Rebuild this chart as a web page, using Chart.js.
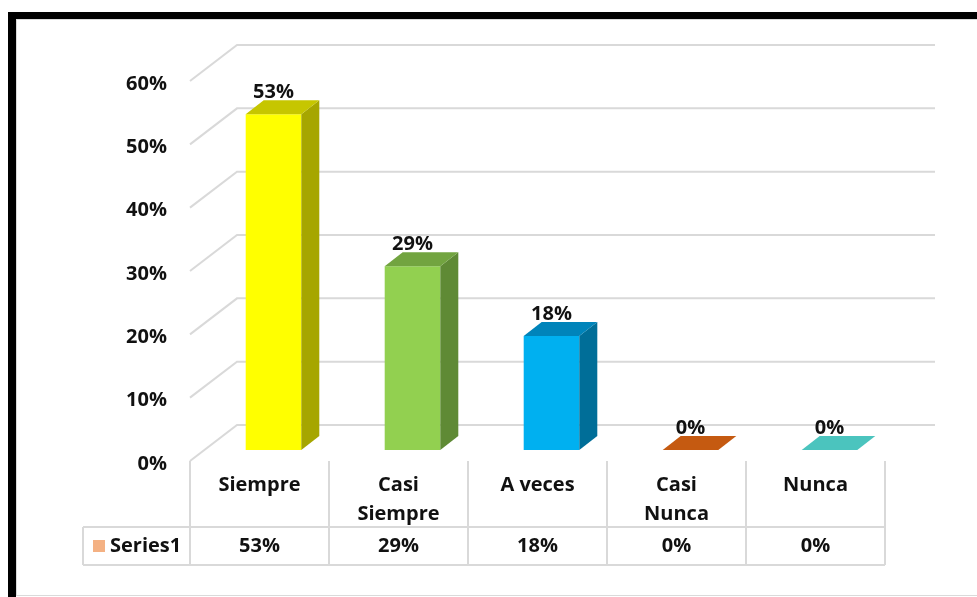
<!DOCTYPE html>
<html>
<head>
<meta charset="utf-8">
<script src="https://cdn.jsdelivr.net/npm/chart.js@4"></script>
<style>
html,body{margin:0;padding:0;background:#fff;}
#wrap{position:absolute;left:0;top:0;width:977px;height:597px;}
</style>
</head>
<body>
<div id="wrap"><canvas id="chart"></canvas></div>
<script>
// data
const categories = [["Siempre"], ["Casi", "Siempre"], ["A veces"], ["Casi", "Nunca"], ["Nunca"]];
const values = [0.53, 0.29, 0.18, 0, 0];
const seriesName = "Series1";
const yMax = 0.6;
const yStep = 0.1;

// colours: front, side, top of each column
const frontColors = ["#FFFF00", "#92D050", "#00B0F0", "#C55A11", "#4BC4BE"];
const sideColors = ["#A6A600", "#5F8A35", "#006E98", "#8E3F0B", "#338F8C"];
const topColors = ["#C6C600", "#72A440", "#0084BA", "#C55A11", "#4BC4BE"];
const keyColor = "#F4B183";

const FONT = "'Open Sans', sans-serif";
const FSIZE = 20;
const pct = v => Math.round(v * 100) + "%";

// 3d offsets (pixels)
const DEPTH = {dx: 18, dy: -14};   // column depth
const FRONT = {dx: -14, dy: 11};   // front edge of floor vs column plane
const BACK = {dx: 33, dy: -25};    // back wall vs column plane
const GRID = "#D9D9D9";

function poly(ctx, pts, color){
  ctx.beginPath();
  ctx.moveTo(pts[0][0], pts[0][1]);
  for(let i=1;i<pts.length;i++) ctx.lineTo(pts[i][0], pts[i][1]);
  ctx.closePath();
  ctx.fillStyle = color;
  ctx.fill();
}

const frame = {
  id: "frame",
  beforeDraw(chart){
    let ctx = chart.ctx;
    ctx.save();
    ctx.fillStyle = "#fff";
    ctx.fillRect(0, 0, chart.width, chart.height);
    ctx.fillStyle = "#000";
    ctx.fillRect(8, 12, chart.width, 7);
    ctx.fillRect(8, 12, 8, chart.height);
    ctx.strokeStyle = "#DADADA";
    ctx.lineWidth = 1;
    ctx.strokeRect(16.5, 19.5, chart.width, 576);
    ctx.restore();
  }
};

/* back wall grid + side wall lines */
const walls = {
  id: "walls",
  beforeDatasetsDraw(chart){
    let ctx = chart.ctx, y = chart.scales.y, a = chart.chartArea;
    let fx = a.left + FRONT.dx, bx = a.left + BACK.dx;
    let bRight = a.right + FRONT.dx + 50;
    ctx.save();
    ctx.strokeStyle = GRID;
    ctx.lineWidth = 2;
    y.ticks.forEach(t => {
      let py = y.getPixelForValue(t.value);
      ctx.beginPath();
      ctx.moveTo(fx, py + FRONT.dy);
      ctx.lineTo(bx, py + BACK.dy);
      ctx.lineTo(bRight, py + BACK.dy);
      ctx.stroke();
    });
    ctx.restore();
  }
};

/* column sides/tops, value labels and the data table */
const bars3d = {
  id: "bars3d",
  afterDatasetsDraw(chart){
    let ctx = chart.ctx, meta = chart.getDatasetMeta(0), a = chart.chartArea;
    let xs = chart.scales.x;
    ctx.save();
    meta.data.forEach((bar, i) => {
      let l = bar.x - bar.width / 2, r = bar.x + bar.width / 2;
      let t = bar.y, b = bar.base;
      if(values[i] > 0){
        poly(ctx, [[r, t], [r + DEPTH.dx, t + DEPTH.dy], [r + DEPTH.dx, b + DEPTH.dy], [r, b]], sideColors[i]);
      }
      poly(ctx, [[l, t], [l + DEPTH.dx, t + DEPTH.dy], [r + DEPTH.dx, t + DEPTH.dy], [r, t]], topColors[i]);

      ctx.fillStyle = "#111";
      ctx.font = "bold " + FSIZE + "px " + FONT;
      ctx.textAlign = "center";
      ctx.textBaseline = "alphabetic";
      ctx.fillText(pct(values[i]), bar.x, t + DEPTH.dy - 2);
    });

    // data table
    let fx0 = a.left + FRONT.dx, floorY = a.bottom + FRONT.dy;
    let step = xs.getPixelForValue(1) - xs.getPixelForValue(0);
    let rowTop = 527, rowBot = 565, keyLeft = 83;
    ctx.strokeStyle = GRID;
    ctx.lineWidth = 2;
    ctx.beginPath();
    for(let i=0;i<=categories.length;i++){
      let x = fx0 + i * step;
      ctx.moveTo(x, floorY);
      ctx.lineTo(x, rowBot);
    }
    ctx.moveTo(keyLeft, rowTop); ctx.lineTo(fx0 + categories.length * step, rowTop);
    ctx.moveTo(keyLeft, rowBot); ctx.lineTo(fx0 + categories.length * step, rowBot);
    ctx.moveTo(keyLeft, rowTop); ctx.lineTo(keyLeft, rowBot);
    ctx.stroke();

    ctx.fillStyle = "#111";
    ctx.font = "bold " + FSIZE + "px " + FONT;
    ctx.textAlign = "center";
    ctx.textBaseline = "middle";
    values.forEach((v, i) => {
      ctx.fillText(pct(v), fx0 + (i + 0.5) * step, 546);
    });

    ctx.fillStyle = keyColor;
    ctx.fillRect(93, 540, 12, 12);
    ctx.fillStyle = "#111";
    ctx.textAlign = "left";
    ctx.fillText(seriesName, 110, 546);
    ctx.restore();
  }
};

new Chart(document.getElementById("chart"), {
  type: "bar",
  data: {
    labels: categories,
    datasets: [{
      label: seriesName,
      data: values,
      backgroundColor: frontColors,
      borderWidth: 0,
      barPercentage: 0.4,
      categoryPercentage: 1
    }]
  },
  options: {
    responsive: true,
    maintainAspectRatio: false,
    animation: false,
    layout: {padding: {top: 70, right: 78, left: 0, bottom: 0}},
    plugins: {legend: {display: false}, tooltip: {enabled: false}},
    scales: {
      x: {
        grid: {display: false, drawTicks: false},
        border: {display: false},
        ticks: {
          color: "#111",
          font: {family: FONT, size: FSIZE, weight: "bold", lineHeight: 1.45},
          padding: 21,
          labelOffset: FRONT.dx,
          maxRotation: 0,
          autoSkip: false
        },
        afterFit(s){ s.height = 147; }
      },
      y: {
        min: 0,
        max: yMax,
        grid: {display: false, drawTicks: false},
        border: {display: false},
        ticks: {
          stepSize: yStep,
          color: "#111",
          font: {family: FONT, size: FSIZE, weight: "bold"},
          padding: 37,
          labelOffset: FRONT.dy + 3,
          callback: v => pct(v)
        },
        afterFit(s){ s.width = 204; }
      }
    }
  },
  plugins: [frame, walls, bars3d]
});
</script>
</body>
</html>
